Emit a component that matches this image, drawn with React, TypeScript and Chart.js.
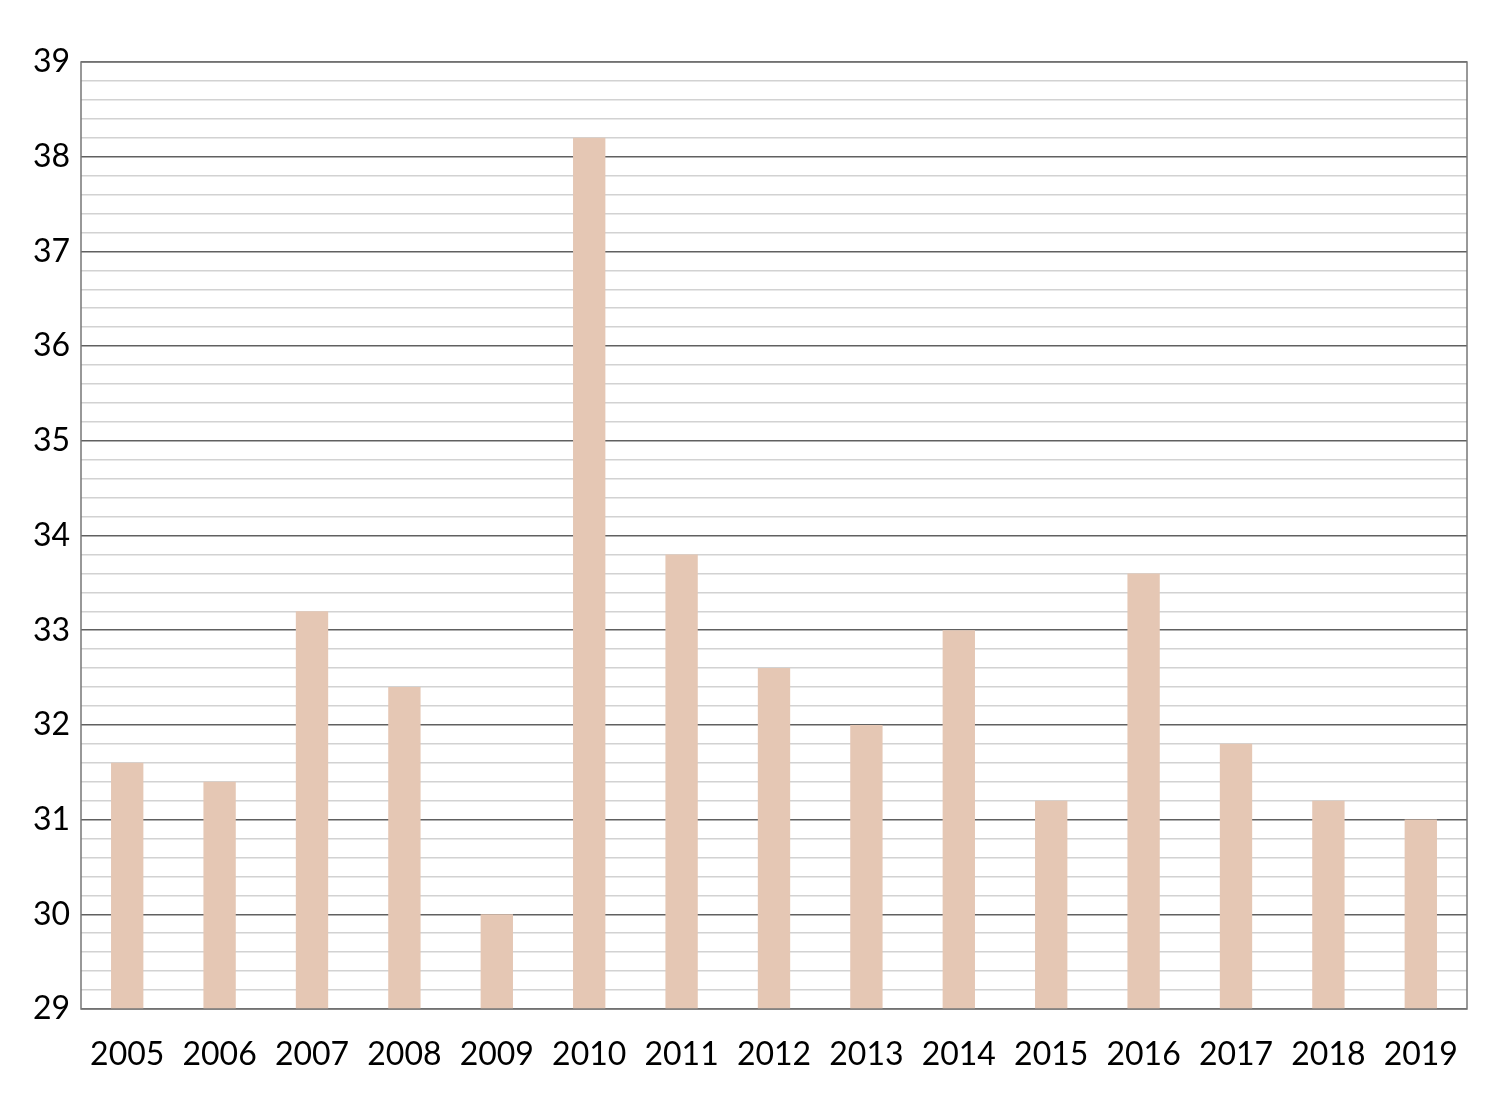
import React, { useEffect, useRef } from "react";
import { Chart, registerables } from "chart.js";

Chart.register(...registerables);

const years = ["2005","2006","2007","2008","2009","2010","2011","2012","2013","2014","2015","2016","2017","2018","2019"];
const values = [31.6, 31.4, 33.2, 32.4, 30.0, 38.2, 33.8, 32.6, 32.0, 33.0, 31.2, 33.6, 31.8, 31.2, 31.0];
const yMin = 29;
const yMax = 39;

export default function App() {
  const ref = useRef<HTMLCanvasElement | null>(null);
  useEffect(() => {
    document.body.style.margin = "0";
    const borderPlugin = {
      id: "areaBorder",
      afterDraw(chart: any) {
        const { ctx, chartArea } = chart;
        ctx.save();
        ctx.strokeStyle = "#777777";
        ctx.lineWidth = 1.5;
        ctx.strokeRect(chartArea.left, chartArea.top, chartArea.right - chartArea.left, chartArea.bottom - chartArea.top);
        ctx.restore();
      },
    };
    const chart = new Chart(ref.current!, {
      type: "bar",
      data: {
        labels: years,
        datasets: [
          {
            data: values,
            backgroundColor: "#e5c7b4",
            barPercentage: 0.35,
            categoryPercentage: 1,
          },
        ],
      },
      options: {
        animation: false,
        responsive: false,
        devicePixelRatio: 1,
        layout: { padding: { top: 62, right: 33, bottom: 0, left: 0 } },
        plugins: { legend: { display: false }, tooltip: { enabled: false } },
        scales: {
          x: {
            grid: { display: false, drawTicks: false },
            border: { display: false },
            ticks: {
              color: "#000",
              padding: 26,
              maxRotation: 0,
              autoSkip: false,
              font: { family: "Lato", size: 32 },
            },
            afterFit(scale: any) {
              scale.height = 104;
            },
          },
          y: {
            min: yMin,
            max: yMax,
            grid: {
              drawTicks: false,
              color: (ctx: any) => {
                const v = ctx.tick ? ctx.tick.value : 0;
                return Math.abs(v - Math.round(v)) < 1e-6 ? "#606060" : "#d2d2d2";
              },
              lineWidth: 1.5,
            },
            border: { display: false },
            ticks: {
              stepSize: 0.2,
              autoSkip: false,
              color: "#000",
              padding: 11,
              font: { family: "Lato", size: 32 },
              callback: (v: any) => {
                const n = Number(v);
                return Math.abs(n - Math.round(n)) < 1e-6 ? String(Math.round(n)) : "";
              },
            },
            afterFit(scale: any) {
              scale.width = 81;
            },
          },
        },
      },
      plugins: [borderPlugin],
    });
    return () => chart.destroy();
  }, []);
  return (
    <div style={{ width: 1500, height: 1113 }}>
      <canvas ref={ref} width={1500} height={1113} />
    </div>
  );
}
